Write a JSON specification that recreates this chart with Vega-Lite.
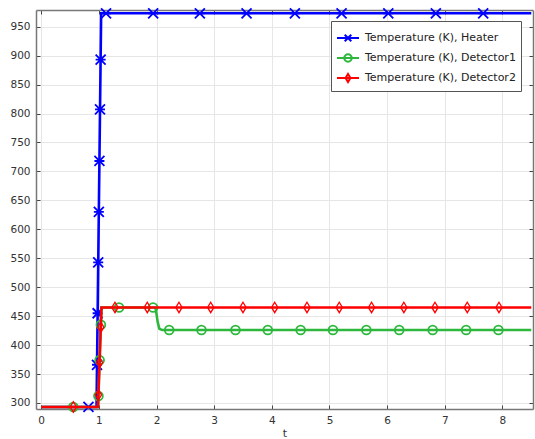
{
  "$schema": "https://vega.github.io/schema/vega-lite/v6.json",
  "width": 497,
  "height": 399,
  "autosize": {"type": "none"},
  "padding": {"left": 36, "top": 10, "right": 2, "bottom": 30},
  "background": "white",
  "config": {
    "font": "DejaVu Sans",
    "view": {"stroke": null},
    "axis": {
      "gridColor": "#e6e6e6",
      "gridWidth": 1,
      "domainColor": "#777777",
      "domainWidth": 1.5,
      "tickColor": "#444444",
      "tickSize": -4,
      "labelFont": "DejaVu Sans",
      "labelFontSize": 10.5,
      "labelColor": "#333333",
      "titleFont": "DejaVu Sans",
      "titleFontSize": 11,
      "titleFontWeight": "normal",
      "titleColor": "#333333"
    },
    "legend": {
      "orient": "none",
      "legendX": 295,
      "legendY": 11,
      "labelFont": "DejaVu Sans",
      "labelFontSize": 11,
      "labelColor": "#222222",
      "symbolSize": 484,
      "padding": 5,
      "rowPadding": 0,
      "labelOffset": 5,
      "strokeColor": "#555555",
      "fillColor": "white",
      "cornerRadius": 0,
      "symbolStrokeWidth": 2
    }
  },
  "datasets": {
    "lines": [
      {"series": "Temperature (K), Heater", "t": 0, "T": 293.15},
      {"series": "Temperature (K), Heater", "t": 0.96, "T": 293.15},
      {"series": "Temperature (K), Heater", "t": 1.04, "T": 973.15},
      {"series": "Temperature (K), Heater", "t": 8.5, "T": 973.15},
      {"series": "Temperature (K), Detector1", "t": 0, "T": 293.15},
      {"series": "Temperature (K), Detector1", "t": 0.985, "T": 293.15},
      {"series": "Temperature (K), Detector1", "t": 1.045, "T": 465},
      {"series": "Temperature (K), Detector1", "t": 1.97, "T": 465},
      {"series": "Temperature (K), Detector1", "t": 1.99, "T": 461},
      {"series": "Temperature (K), Detector1", "t": 2.02, "T": 440},
      {"series": "Temperature (K), Detector1", "t": 2.05, "T": 428},
      {"series": "Temperature (K), Detector1", "t": 2.1, "T": 426},
      {"series": "Temperature (K), Detector1", "t": 8.5, "T": 426},
      {"series": "Temperature (K), Detector2", "t": 0, "T": 293.15},
      {"series": "Temperature (K), Detector2", "t": 0.985, "T": 293.15},
      {"series": "Temperature (K), Detector2", "t": 1.045, "T": 465},
      {"series": "Temperature (K), Detector2", "t": 8.5, "T": 465}
    ],
    "markers": [
      {"series": "Temperature (K), Heater", "t": 0.82, "T": 293.15},
      {"series": "Temperature (K), Heater", "t": 0.968, "T": 366},
      {"series": "Temperature (K), Heater", "t": 0.979, "T": 455},
      {"series": "Temperature (K), Heater", "t": 0.989, "T": 543},
      {"series": "Temperature (K), Heater", "t": 1.0, "T": 630},
      {"series": "Temperature (K), Heater", "t": 1.01, "T": 718},
      {"series": "Temperature (K), Heater", "t": 1.02, "T": 807},
      {"series": "Temperature (K), Heater", "t": 1.031, "T": 893},
      {"series": "Temperature (K), Heater", "t": 1.125, "T": 973.15},
      {"series": "Temperature (K), Heater", "t": 1.942, "T": 973.15},
      {"series": "Temperature (K), Heater", "t": 2.752, "T": 973.15},
      {"series": "Temperature (K), Heater", "t": 3.562, "T": 973.15},
      {"series": "Temperature (K), Heater", "t": 4.4, "T": 973.15},
      {"series": "Temperature (K), Heater", "t": 5.21, "T": 973.15},
      {"series": "Temperature (K), Heater", "t": 6.02, "T": 973.15},
      {"series": "Temperature (K), Heater", "t": 6.845, "T": 973.15},
      {"series": "Temperature (K), Heater", "t": 7.666, "T": 973.15},
      {"series": "Temperature (K), Detector1", "t": 0.557, "T": 293.15},
      {"series": "Temperature (K), Detector1", "t": 0.993, "T": 312},
      {"series": "Temperature (K), Detector1", "t": 1.013, "T": 374},
      {"series": "Temperature (K), Detector1", "t": 1.035, "T": 435},
      {"series": "Temperature (K), Detector1", "t": 1.35, "T": 465},
      {"series": "Temperature (K), Detector1", "t": 1.94, "T": 465},
      {"series": "Temperature (K), Detector1", "t": 2.22, "T": 426},
      {"series": "Temperature (K), Detector1", "t": 2.78, "T": 426},
      {"series": "Temperature (K), Detector1", "t": 3.37, "T": 426},
      {"series": "Temperature (K), Detector1", "t": 3.93, "T": 426},
      {"series": "Temperature (K), Detector1", "t": 4.5, "T": 426},
      {"series": "Temperature (K), Detector1", "t": 5.06, "T": 426},
      {"series": "Temperature (K), Detector1", "t": 5.64, "T": 426},
      {"series": "Temperature (K), Detector1", "t": 6.21, "T": 426},
      {"series": "Temperature (K), Detector1", "t": 6.79, "T": 426},
      {"series": "Temperature (K), Detector1", "t": 7.37, "T": 426},
      {"series": "Temperature (K), Detector1", "t": 7.93, "T": 426},
      {"series": "Temperature (K), Detector2", "t": 0.557, "T": 293.15},
      {"series": "Temperature (K), Detector2", "t": 0.992, "T": 314},
      {"series": "Temperature (K), Detector2", "t": 1.012, "T": 370},
      {"series": "Temperature (K), Detector2", "t": 1.033, "T": 431},
      {"series": "Temperature (K), Detector2", "t": 1.28, "T": 465},
      {"series": "Temperature (K), Detector2", "t": 1.84, "T": 465},
      {"series": "Temperature (K), Detector2", "t": 2.39, "T": 465},
      {"series": "Temperature (K), Detector2", "t": 2.94, "T": 465},
      {"series": "Temperature (K), Detector2", "t": 3.5, "T": 465},
      {"series": "Temperature (K), Detector2", "t": 4.05, "T": 465},
      {"series": "Temperature (K), Detector2", "t": 4.61, "T": 465},
      {"series": "Temperature (K), Detector2", "t": 5.17, "T": 465},
      {"series": "Temperature (K), Detector2", "t": 5.73, "T": 465},
      {"series": "Temperature (K), Detector2", "t": 6.29, "T": 465},
      {"series": "Temperature (K), Detector2", "t": 6.83, "T": 465},
      {"series": "Temperature (K), Detector2", "t": 7.39, "T": 465},
      {"series": "Temperature (K), Detector2", "t": 7.94, "T": 465}
    ]
  },
  "encoding": {
    "x": {"field": "t", "type": "quantitative", "scale": {"domain": [-0.09, 8.53], "nice": false, "zero": false}, "axis": null},
    "y": {"field": "T", "type": "quantitative", "scale": {"domain": [289.6, 978.8], "nice": false, "zero": false}, "axis": null},
    "color": {
      "field": "series", "type": "nominal",
      "scale": {
        "domain": ["Temperature (K), Heater", "Temperature (K), Detector1", "Temperature (K), Detector2"],
        "range": ["#0000ff", "#2db83d", "#ff0000"]
      },
      "legend": {
        "title": null,
        "encode": {
          "symbols": {
            "update": {
              "shape": {"signal": "datum.value === 'Temperature (K), Heater' ? 'M-1,0L1,0M-0.3,-0.3L0.3,0.3M-0.3,0.3L0.3,-0.3' : datum.value === 'Temperature (K), Detector1' ? 'M-1,0L1,0M-0.34,0A0.34,0.34 0 1,0 0.34,0A0.34,0.34 0 1,0 -0.34,0' : 'M-1,0L1,0M0,-0.36L0.22,0L0,0.36L-0.22,0Z'"},
              "fill": {"value": "transparent"},
              "strokeWidth": {"value": 2}
            }
          }
        }
      }
    }
  },
  "layer": [
    {
      "data": {"name": "lines"},
      "transform": [{"filter": "datum.series === 'Temperature (K), Heater'"}],
      "mark": {"type": "line", "strokeWidth": 2.6},
      "encoding": {
        "x": {
          "field": "t", "type": "quantitative",
          "axis": {"orient": "bottom", "title": "t", "values": [0, 1, 2, 3, 4, 5, 6, 7, 8], "labelPadding": 10, "titlePadding": 2}
        },
        "y": {
          "field": "T", "type": "quantitative",
          "axis": {"orient": "left", "title": null, "values": [300, 350, 400, 450, 500, 550, 600, 650, 700, 750, 800, 850, 900, 950], "labelPadding": 10}
        }
      }
    },
    {
      "data": {"name": "markers"},
      "transform": [{"filter": "datum.series === 'Temperature (K), Heater'"}],
      "mark": {"type": "point", "filled": false, "strokeWidth": 1.8, "size": 100, "opacity": 1, "shape": "M-1,-1L1,1M-1,1L1,-1M-1,0L1,0"},
      "encoding": {
        "x": {
          "field": "t", "type": "quantitative",
          "axis": {"orient": "top", "title": null, "labels": false, "grid": false, "values": [0, 1, 2, 3, 4, 5, 6, 7, 8]}
        },
        "y": {
          "field": "T", "type": "quantitative",
          "axis": {"orient": "right", "title": null, "labels": false, "grid": false, "values": [300, 350, 400, 450, 500, 550, 600, 650, 700, 750, 800, 850, 900, 950]}
        }
      }
    },
    {
      "data": {"name": "lines"},
      "transform": [{"filter": "datum.series === 'Temperature (K), Detector1'"}],
      "mark": {"type": "line", "strokeWidth": 2.6}
    },
    {
      "data": {"name": "markers"},
      "transform": [{"filter": "datum.series === 'Temperature (K), Detector1'"}],
      "mark": {"type": "point", "filled": false, "strokeWidth": 1.8, "size": 100, "opacity": 1, "shape": "M-0.88,0A0.88,0.88 0 1,0 0.88,0A0.88,0.88 0 1,0 -0.88,0"}
    },
    {
      "data": {"name": "lines"},
      "transform": [{"filter": "datum.series === 'Temperature (K), Detector2'"}],
      "mark": {"type": "line", "strokeWidth": 2.6}
    },
    {
      "data": {"name": "markers"},
      "transform": [{"filter": "datum.series === 'Temperature (K), Detector2'"}],
      "mark": {"type": "point", "filled": false, "strokeWidth": 1.3, "size": 110, "opacity": 1, "shape": "M0,-1L0.6,0L0,1L-0.6,0Z"}
    }
  ],
  "resolve": {"axis": {"x": "independent", "y": "independent"}}
}
